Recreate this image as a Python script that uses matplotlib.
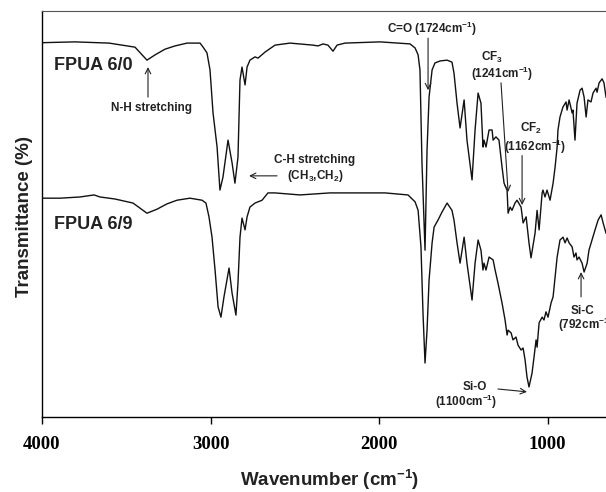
import matplotlib
matplotlib.use("Agg")
import matplotlib.pyplot as plt

plt.rcParams['font.family'] = 'Liberation Sans'
plt.rcParams['font.weight'] = 'bold'
plt.rcParams['mathtext.fontset'] = 'custom'
plt.rcParams['mathtext.rm'] = 'Liberation Sans:bold'
plt.rcParams['mathtext.it'] = 'Liberation Sans:bold'
plt.rcParams['mathtext.bf'] = 'Liberation Sans:bold'
plt.rcParams['mathtext.default'] = 'rm'

# FPUA 6/0 spectrum (wavenumber cm-1, transmittance)
wn_60 = [4000, 3804, 3602, 3448, 3377, 3329, 3270, 3211, 3139, 3062, 3044, 3021,
         3003, 2985, 2961, 2944, 2926, 2896, 2872, 2855, 2837, 2825, 2813, 2795,
         2783, 2766, 2736, 2718, 2676, 2617, 2528, 2392, 2362, 2332, 2303, 2273,
         2249, 2202, 1994, 1816, 1786, 1768, 1757, 1745, 1727, 1715, 1703, 1685,
         1668, 1638, 1596, 1567, 1555, 1537, 1519, 1495, 1478, 1448, 1430, 1412,
         1395, 1383, 1377, 1365, 1347, 1329, 1323, 1306, 1288, 1270, 1258, 1240,
         1234, 1222, 1211, 1193, 1181, 1157, 1145, 1127, 1110, 1098, 1074, 1062,
         1050, 1032, 1027, 1015, 1003, 985, 967, 955, 943, 938, 926, 914, 908,
         890, 884, 872, 854, 849, 837, 825, 807, 795, 783, 771, 760, 742, 730,
         712, 706, 694, 676, 665, 653]
t_60 = [92.2, 92.4, 92.1, 91.1, 87.9, 89.2, 90.6, 91.4, 92.1, 92.1, 91.1, 89.7,
        85.5, 74.9, 66.5, 55.9, 59.1, 68.2, 62.6, 57.6, 64.0, 83.0, 86.2, 81.8,
        86.2, 87.9, 88.7, 88.4, 89.9, 91.6, 92.1, 91.6, 91.4, 91.9, 91.6, 90.1,
        91.6, 92.1, 92.4, 91.9, 90.9, 89.2, 85.5, 62.6, 41.1, 65.8, 78.8, 85.5,
        87.2, 87.7, 87.9, 87.4, 84.7, 77.3, 71.2, 78.1, 68.2, 58.4, 70.7, 79.8,
        77.3, 66.5, 68.2, 66.5, 70.7, 70.7, 68.2, 69.0, 68.2, 61.6, 57.6, 55.9,
        50.2, 51.7, 50.9, 52.7, 53.4, 51.7, 47.8, 49.3, 42.9, 39.2, 45.3, 50.9,
        46.1, 55.2, 55.9, 54.2, 55.9, 53.4, 57.6, 61.6, 66.5, 70.7, 73.9, 75.6, 76.4,
        77.6, 75.6, 78.1, 74.9, 75.6, 68.2, 77.3, 80.5, 81.0, 78.8, 73.9, 78.1, 77.6, 79.8,
        81.0, 80.0, 82.3, 83.3, 82.3, 78.8]

# FPUA 6/9 spectrum
wn_69 = [4000, 3893, 3774, 3691, 3656, 3567, 3460, 3377, 3317, 3258, 3199, 3122,
         3050, 3027, 3009, 2991, 2973, 2955, 2938, 2920, 2890, 2872, 2849, 2837,
         2825, 2813, 2795, 2783, 2766, 2736, 2694, 2659, 2617, 2469, 2291, 2113,
         1964, 1828, 1786, 1768, 1751, 1739, 1727, 1715, 1703, 1685, 1673, 1650,
         1626, 1596, 1567, 1555, 1537, 1519, 1495, 1478, 1448, 1430, 1412, 1395,
         1383, 1377, 1365, 1347, 1323, 1311, 1294, 1270, 1252, 1240, 1234, 1216,
         1205, 1187, 1175, 1157, 1145, 1133, 1122, 1110, 1092, 1080, 1068, 1062,
         1050, 1032, 1021, 1009, 997, 979, 967, 955, 943, 926, 908, 896, 884, 872,
         854, 843, 831, 825, 813, 795, 783, 765, 754, 736, 718, 700, 682, 670, 653]
t_69 = [53.9, 53.9, 54.2, 54.7, 54.2, 53.7, 52.7, 50.2, 51.2, 52.5, 53.4, 53.9,
        53.4, 52.7, 49.3, 44.3, 36.2, 27.1, 24.6, 29.6, 36.7, 30.5, 25.1, 33.0,
        44.3, 49.0, 46.1, 49.3, 51.7, 52.7, 53.4, 55.2, 55.2, 54.7, 55.2, 55.2,
        55.2, 54.7, 53.0, 50.9, 41.9, 25.6, 13.3, 21.4, 33.7, 42.9, 46.8, 48.5,
        50.5, 52.7, 50.9, 48.5, 42.9, 37.9, 44.3, 37.9, 28.8, 37.9, 43.6, 41.1,
        36.2, 37.9, 36.2, 39.4, 38.7, 36.2, 33.0, 28.1, 23.9, 20.2, 21.4, 20.7,
        19.0, 19.7, 17.7, 16.5, 17.0, 14.0, 9.9, 7.4, 10.8, 14.8, 19.0, 17.2,
        23.2, 24.6, 23.9, 25.9, 24.6, 28.1, 29.6, 34.5, 39.4, 43.6, 44.3, 42.9, 44.1, 42.9,
        41.9, 39.4, 40.4, 38.7, 39.4, 37.9, 35.7, 37.9, 41.1, 43.6, 46.1, 48.5, 49.8, 47.8, 45.3]

fig = plt.figure(figsize=(6.06, 4.92), dpi=100)
ax = fig.add_axes([0.0693, 0.1524, 0.9307, 0.8252])

ax.plot(wn_60, t_60, color='#111111', lw=1.0)
ax.plot(wn_69, t_69, color='#111111', lw=1.0)

ax.set_xlim(4000, 653)
ax.set_ylim(0, 100)
ax.set_xticks([4000, 3000, 2000, 1000])
ax.set_yticks([])
ax.tick_params(axis='x', direction='out', length=5, width=1, pad=9)
for lab in ax.get_xticklabels():
    lab.set_fontfamily('Liberation Serif')
    lab.set_fontweight('bold')
    lab.set_fontsize(13.5)
ax.spines['right'].set_visible(False)
ax.spines['top'].set_color('#555555')
for s in ['left', 'bottom']:
    ax.spines[s].set_linewidth(1.0)

ax.set_xlabel('Wavenumber (cm$^{-1}$)', fontsize=13.5, fontweight='bold', color='#222222')
ax.set_ylabel('Transmittance (%)', fontsize=13.5, fontweight='bold', color='#222222')
ax.xaxis.set_label_coords(0.51, -0.125)
ax.yaxis.set_label_coords(-0.016, 0.495)

tc = '#222222'
ax.text(3929, 86.5, 'FPUA 6/0', fontsize=13, ha='left', va='center', color=tc)
ax.text(3929, 47.5, 'FPUA 6/9', fontsize=13, ha='left', va='center', color=tc)

fs = 8.5
ap = dict(arrowstyle='->', color='#222222', lw=0.8, shrinkA=0, shrinkB=0)

ax.text(3353, 76.1, 'N-H stretching', fontsize=fs, ha='center', va='center', color=tc)
ax.annotate('', xy=(3371, 86.2), xytext=(3371, 78.8), arrowprops=ap)

ax.text(2380, 63.3, 'C-H stretching', fontsize=fs, ha='center', va='center', color=tc)
ax.text(2380, 59.4, '(CH$_3$,CH$_2$)', fontsize=fs, ha='center', va='center', color=tc)
ax.annotate('', xy=(2771, 59.4), xytext=(2605, 59.4), arrowprops=ap)

ax.text(1685, 95.6, 'C=O (1724cm$^{-1}$)', fontsize=fs, ha='center', va='center', color=tc)
ax.annotate('', xy=(1709, 80.5), xytext=(1709, 93.3), arrowprops=ap)

ax.text(1329, 88.6, 'CF$_3$', fontsize=fs, ha='center', va='center', color=tc)
ax.text(1270, 84.5, '(1241cm$^{-1}$)', fontsize=fs, ha='center', va='center', color=tc)
ax.annotate('', xy=(1234, 55.4), xytext=(1276, 82.3), arrowprops=ap)

ax.text(1098, 71.1, 'CF$_2$', fontsize=fs, ha='center', va='center', color=tc)
ax.text(1074, 66.6, '(1162cm$^{-1}$)', fontsize=fs, ha='center', va='center', color=tc)
ax.annotate('', xy=(1151, 52.2), xytext=(1151, 64.4), arrowprops=ap)

ax.text(1430, 7.4, 'Si-O', fontsize=fs, ha='center', va='center', color=tc)
ax.text(1484, 3.7, '(1100cm$^{-1}$)', fontsize=fs, ha='center', va='center', color=tc)
ax.annotate('', xy=(1122, 6.2), xytext=(1294, 6.9), arrowprops=ap)

ax.text(795, 26.1, 'Si-C', fontsize=fs, ha='center', va='center', color=tc)
ax.text(938, 22.7, '(792cm$^{-1}$)', fontsize=fs, ha='left', va='center', color=tc)
ax.annotate('', xy=(801, 35.7), xytext=(801, 29.6), arrowprops=ap)

fig.savefig('out.png', dpi=100)
